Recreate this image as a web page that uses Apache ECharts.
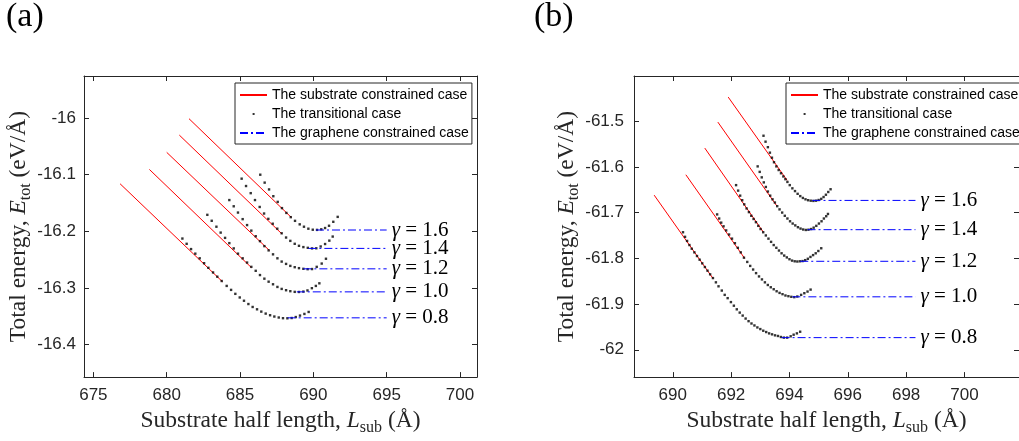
<!DOCTYPE html>
<html><head><meta charset="utf-8">
<script src="https://cdn.jsdelivr.net/npm/echarts@6/dist/echarts.min.js"></script>
<style>html,body{margin:0;padding:0;background:#fff}#c{width:1019px;height:441px}</style>
</head><body><div id="c"></div>
<script>
// ---- data ----
const gammaLabels = ['1.6', '1.4', '1.2', '1.0', '0.8'];
const xTicksA = [675, 680, 685, 690, 695, 700];
const yTicksA = [-16.4, -16.3, -16.2, -16.1, -16];
const xTicksB = [690, 692, 694, 696, 698, 700];
const yTicksB = [-62, -61.9, -61.8, -61.7, -61.6, -61.5];

// panel (a): substrate constrained (red) line end points
const subA16 = [[681.52, -16.001], [688.50, -16.1755]];
const subA14 = [[680.86, -16.030], [687.86, -16.2047]];
const subA12 = [[680.00, -16.0605], [687.00, -16.2338]];
const subA10 = [[678.82, -16.0907], [685.77, -16.264]];
const subA08 = [[676.82, -16.116], [683.80, -16.289]];
// panel (a): graphene constrained (blue) [xStart, xEnd, y]
const graA = [[690.18, 695.0, -16.1977], [689.66, 695.0, -16.2302], [689.32, 695.0, -16.2663], [688.87, 695.0, -16.307], [688.25, 695.0, -16.3529]];
// panel (a): transitional dots
const traA16 = [[686.38,-16.100],[686.68,-16.114],[686.98,-16.126],[687.27,-16.138],[687.57,-16.148],[687.86,-16.159],[688.16,-16.1675],[688.46,-16.175],[688.75,-16.1815],[689.07,-16.1877],[689.36,-16.1919],[689.66,-16.1954],[689.96,-16.1972],[690.25,-16.1975],[690.54,-16.1965],[690.80,-16.1942],[691.07,-16.1902],[691.36,-16.1832],[691.66,-16.1745]];
const traA14 = [[685.11,-16.107],[685.41,-16.120],[685.73,-16.1326],[686.02,-16.1448],[686.34,-16.157],[686.64,-16.1686],[686.93,-16.178],[687.23,-16.1866],[687.54,-16.1954],[687.84,-16.2035],[688.14,-16.211],[688.43,-16.2169],[688.73,-16.2221],[689.02,-16.2256],[689.32,-16.2279],[689.62,-16.2292],[689.91,-16.2302],[690.20,-16.2300],[690.50,-16.2268],[690.80,-16.2225],[691.09,-16.2165],[691.32,-16.2093]];
const traA12 = [[684.27,-16.1448],[684.57,-16.1558],[684.86,-16.1669],[685.18,-16.1785],[685.48,-16.189],[685.77,-16.1988],[686.07,-16.2087],[686.36,-16.2174],[686.66,-16.2262],[686.95,-16.2337],[687.25,-16.2407],[687.55,-16.2477],[687.84,-16.2535],[688.14,-16.2576],[688.43,-16.2611],[688.73,-16.2634],[689.02,-16.2651],[689.32,-16.2663],[689.61,-16.2669],[689.91,-16.2667],[690.23,-16.2628],[690.57,-16.257],[690.86,-16.2485]];
const traA10 = [[682.77,-16.1709],[683.07,-16.1814],[683.39,-16.1919],[683.68,-16.2023],[683.98,-16.2116],[684.27,-16.2209],[684.57,-16.2302],[684.86,-16.2395],[685.18,-16.2477],[685.48,-16.2552],[685.77,-16.2628],[686.07,-16.2698],[686.36,-16.2773],[686.66,-16.2837],[686.95,-16.289],[687.25,-16.2936],[687.55,-16.2983],[687.84,-16.3018],[688.14,-16.3041],[688.43,-16.3058],[688.73,-16.307],[689.02,-16.3072],[689.32,-16.3065],[689.60,-16.3045],[689.90,-16.3005],[690.17,-16.2965],[690.41,-16.2919]];
const traA08 = [[681.07,-16.2128],[681.36,-16.2221],[681.66,-16.2314],[681.95,-16.2395],[682.25,-16.2477],[682.55,-16.2564],[682.84,-16.2645],[683.16,-16.2727],[683.45,-16.2802],[683.75,-16.2878],[684.09,-16.2965],[684.39,-16.3035],[684.68,-16.3105],[684.98,-16.3169],[685.27,-16.3227],[685.57,-16.3285],[685.86,-16.3337],[686.16,-16.3378],[686.45,-16.3419],[686.75,-16.3454],[687.05,-16.3483],[687.34,-16.3506],[687.64,-16.3523],[687.93,-16.3535],[688.23,-16.3537],[688.52,-16.3532],[688.80,-16.3515],[689.09,-16.3489],[689.39,-16.346],[689.68,-16.3425]];

// panel (b)
const subB16 = [[691.90, -61.4475], [693.92, -61.6295]];
const subB14 = [[691.545, -61.5022], [693.56, -61.6849]];
const subB12 = [[691.097, -61.559], [693.11, -61.7432]];
const subB10 = [[690.448, -61.6173], [692.463, -61.80]];
const subB08 = [[689.362, -61.6619], [691.377, -61.8439]];
const graB = [[694.79, 698.32, -61.6734], [694.62, 698.32, -61.7374], [694.37, 698.32, -61.8065], [694.10, 698.32, -61.8842], [693.73, 698.32, -61.9734]];
const traB16 = [[693.11,-61.532],[693.18,-61.545],[693.26,-61.557],[693.33,-61.569],[693.40,-61.580],[693.47,-61.590],[693.55,-61.599],[693.63,-61.607],[693.71,-61.614],[693.79,-61.621],[693.86,-61.627],[693.93,-61.633],[694.01,-61.640],[694.10,-61.647],[694.19,-61.653],[694.28,-61.659],[694.37,-61.664],[694.46,-61.668],[694.55,-61.671],[694.64,-61.673],[694.73,-61.674],[694.82,-61.6745],[694.91,-61.674],[695.00,-61.6725],[695.09,-61.670],[695.17,-61.666],[695.25,-61.661],[695.33,-61.655],[695.41,-61.649]];
const traB14 = [[692.91,-61.599],[692.98,-61.611],[693.05,-61.623],[693.12,-61.634],[693.19,-61.644],[693.26,-61.654],[693.34,-61.663],[693.42,-61.671],[693.50,-61.678],[693.58,-61.686],[693.66,-61.693],[693.75,-61.700],[693.84,-61.707],[693.93,-61.713],[694.02,-61.719],[694.11,-61.724],[694.20,-61.728],[694.29,-61.732],[694.38,-61.735],[694.47,-61.737],[694.56,-61.738],[694.65,-61.7375],[694.74,-61.736],[694.83,-61.733],[694.92,-61.729],[695.01,-61.724],[695.10,-61.719],[695.18,-61.713],[695.26,-61.708],[695.32,-61.703]];
const traB12 = [[692.17,-61.640],[692.24,-61.652],[692.31,-61.663],[692.38,-61.673],[692.45,-61.682],[692.53,-61.691],[692.61,-61.699],[692.69,-61.707],[692.77,-61.714],[692.85,-61.721],[692.93,-61.729],[693.01,-61.736],[693.10,-61.743],[693.19,-61.750],[693.28,-61.757],[693.37,-61.764],[693.46,-61.771],[693.55,-61.777],[693.64,-61.783],[693.73,-61.789],[693.82,-61.794],[693.91,-61.798],[694.00,-61.802],[694.09,-61.805],[694.18,-61.8065],[694.27,-61.807],[694.36,-61.8065],[694.45,-61.806],[694.54,-61.804],[694.63,-61.801],[694.72,-61.797],[694.81,-61.793],[694.90,-61.789],[694.99,-61.784],[695.09,-61.778]];
const traB10 = [[691.52,-61.704],[691.59,-61.713],[691.66,-61.722],[691.74,-61.730],[691.83,-61.739],[691.93,-61.748],[692.03,-61.757],[692.13,-61.767],[692.23,-61.777],[692.33,-61.787],[692.44,-61.7986],[692.553,-61.8079],[692.654,-61.8166],[692.754,-61.8245],[692.855,-61.8324],[692.956,-61.8396],[693.057,-61.8461],[693.158,-61.8525],[693.258,-61.8583],[693.359,-61.8633],[693.46,-61.8676],[693.56,-61.872],[693.661,-61.8756],[693.762,-61.8784],[693.863,-61.8813],[693.964,-61.8828],[694.064,-61.8842],[694.165,-61.8849],[694.27,-61.8835],[694.40,-61.8799],[694.51,-61.8763],[694.62,-61.8727],[694.725,-61.8684]];
const traB08 = [[690.35,-61.743],[690.42,-61.753],[690.49,-61.762],[690.57,-61.771],[690.65,-61.779],[690.74,-61.787],[690.83,-61.795],[690.92,-61.803],[691.01,-61.811],[691.10,-61.819],[691.19,-61.827],[691.28,-61.835],[691.377,-61.8432],[691.478,-61.8525],[691.568,-61.8612],[691.68,-61.8705],[691.78,-61.8799],[691.881,-61.8871],[691.993,-61.8957],[692.094,-61.9036],[692.194,-61.9115],[692.295,-61.9187],[692.396,-61.9252],[692.497,-61.9317],[692.598,-61.9374],[692.698,-61.9425],[692.799,-61.9468],[692.9,-61.9511],[693.001,-61.9547],[693.102,-61.9583],[693.203,-61.9612],[693.303,-61.9641],[693.404,-61.9662],[693.505,-61.9684],[693.606,-61.9698],[693.706,-61.972],[693.807,-61.9734],[693.919,-61.9734],[694.042,-61.9705],[694.143,-61.967],[694.255,-61.9641],[694.367,-61.9605]];

const subA = [subA16, subA14, subA12, subA10, subA08];
const traA = [traA16, traA14, traA12, traA10, traA08];
const subB = [subB16, subB14, subB12, subB10, subB08];
const traB = [traB16, traB14, traB12, traB10, traB08];

const NAME_SUB = 'The substrate constrained case';
const NAME_TRA = 'The transitional case';
const NAME_GRA = 'The graphene constrained case';

// ---- styling ----
const AX = '#262626';
const SANS = 'Liberation Sans';
const SERIF = 'Liberation Serif';
const fmt = v => String(Math.round(v * 10) / 10);

function nameRich(size) {
  return {
    r: { fontFamily: SERIF, fontSize: size, color: AX, lineHeight: 30 },
    i: { fontFamily: SERIF, fontSize: size, color: AX, lineHeight: 30, fontStyle: 'italic' },
    s: { fontFamily: SERIF, fontSize: Math.round(size * 0.7), color: AX, lineHeight: 14, verticalAlign: 'bottom' }
  };
}

function xAxes(grid, min, max, ticks) {
  const base = {
    type: 'value', gridIndex: grid, min: min, max: max,
    axisLine: { show: true, onZero: false, lineStyle: { color: AX, width: 1 } },
    axisTick: { show: true, inside: true, length: 5, customValues: ticks, lineStyle: { color: AX } },
    splitLine: { show: false }
  };
  return [
    Object.assign({}, base, {
      position: 'bottom',
      axisLabel: { customValues: ticks, color: AX, fontFamily: SANS, fontSize: 17, margin: 10, formatter: fmt },
      name: '{r|Substrate half length, }{i|L}{s|sub}{r| (Å)}',
      nameLocation: 'middle', nameGap: 25,
      nameTextStyle: { rich: nameRich(23.5) }
    }),
    Object.assign({}, base, { position: 'top', axisLabel: { show: false } })
  ];
}
function yAxes(grid, min, max, ticks, margin) {
  const base = {
    type: 'value', gridIndex: grid, min: min, max: max,
    axisLine: { show: true, onZero: false, lineStyle: { color: AX, width: 1 } },
    axisTick: { show: true, inside: true, length: 5, customValues: ticks, lineStyle: { color: AX } },
    splitLine: { show: false }
  };
  return [
    Object.assign({}, base, {
      position: 'left',
      axisLabel: { customValues: ticks, color: AX, fontFamily: SANS, fontSize: 17, margin: margin, formatter: fmt },
      name: '{r|Total energy, }{i|E}{s|tot}{r| (eV/Å)}',
      nameLocation: 'middle', nameGap: 48, nameRotate: 90,
      nameTextStyle: { rich: nameRich(23.5) }
    }),
    Object.assign({}, base, { position: 'right', axisLabel: { show: false } })
  ];
}

const series = [];
function addPanel(axIdx, sub, tra, gra) {
  sub.forEach(d => series.push({
    type: 'line', name: NAME_SUB, xAxisIndex: axIdx, yAxisIndex: axIdx, data: d,
    symbol: 'none', lineStyle: { color: '#ff0000', width: 1 }, itemStyle: { color: '#ff0000' },
    silent: true, z: 2
  }));
  tra.forEach(d => series.push({
    type: 'scatter', name: NAME_TRA, xAxisIndex: axIdx, yAxisIndex: axIdx, data: d,
    symbol: 'rect', symbolSize: 2.4, itemStyle: { color: '#000' }, silent: true, z: 3
  }));
  gra.forEach((g, i) => series.push({
    type: 'line', name: NAME_GRA, xAxisIndex: axIdx, yAxisIndex: axIdx,
    data: [[g[0], g[2]], [g[1], g[2]]],
    symbol: 'none', lineStyle: { color: '#0000ff', width: 1, type: [8, 3, 2, 3] }, itemStyle: { color: '#0000ff' },
    silent: true, z: 4,
    endLabel: {
      show: true, distance: 5, formatter: '{g|γ} = ' + gammaLabels[i],
      fontFamily: SERIF, fontSize: 21, color: '#000',
      rich: { g: { fontFamily: SERIF, fontSize: 21, fontStyle: 'italic', color: '#000' } }
    }
  }));
}
addPanel(0, subA, traA, graA);
addPanel(2, subB, traB, graB);

const legendData = [
  { name: NAME_SUB, itemStyle: { opacity: 0 } },
  { name: NAME_TRA, icon: 'path://M0 0M27 12M12.6 5h2v2h-2z' },
  { name: NAME_GRA, itemStyle: { opacity: 0 } }
];
function legendAt(left) {
  return {
    data: legendData, orient: 'vertical', left: left, top: 83,
    itemWidth: 27, itemHeight: 12, itemGap: 5, padding: [5, 3, 4, 4],
    borderColor: AX, borderWidth: 1, backgroundColor: '#fff',
    textStyle: { fontFamily: SANS, fontSize: 14, color: '#000' },
    selectedMode: false
  };
}

const chart = echarts.init(document.getElementById('c'), null, { renderer: 'canvas' });
chart.setOption({
  animation: false,
  backgroundColor: '#fff',
  title: [
    { text: '(a)', left: 6, top: 0, padding: 0, textStyle: { fontFamily: SERIF, fontSize: 34, fontWeight: 'normal', color: '#000' } },
    { text: '(b)', left: 534, top: 0, padding: 0, textStyle: { fontFamily: SERIF, fontSize: 34, fontWeight: 'normal', color: '#000' } }
  ],
  grid: [
    { left: 84, top: 76, width: 393, height: 305 },
    { left: 634, top: 76, width: 393, height: 305 }
  ],
  xAxis: [].concat(xAxes(0, 674.36, 701.16, xTicksA), xAxes(1, 688.67, 701.87, xTicksB)),
  yAxis: [].concat(yAxes(0, -16.4576, -15.9256, yTicksA, 8), yAxes(1, -62.0597, -61.4014, yTicksB, 10)),
  legend: [legendAt(235), legendAt(786)],
  series: series
});
</script>
</body></html>
